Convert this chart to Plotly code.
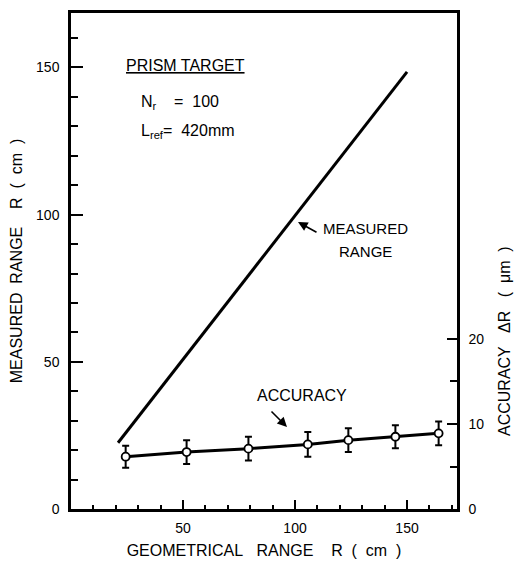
import plotly.graph_objects as go

# ---- data ----
geo_line = [21, 150]                 # geometrical range (cm) for measured-range line
measured_line = [22.5, 148.5]        # measured range (cm)
acc_x = [24.4, 51.6, 79.2, 105.7, 123.8, 144.8, 164.1]   # geometrical range (cm)
acc_y = [6.15, 6.7, 7.1, 7.6, 8.1, 8.5, 8.9]             # accuracy (um)
acc_err = [1.3, 1.4, 1.4, 1.45, 1.4, 1.35, 1.4]          # error bar half-length (um)

x_ticks = [50, 100, 150]
y_ticks = [0, 50, 100, 150]
y2_ticks = [0, 10, 20]
y2_minor = [5, 15]

X_MAX, Y_MAX, Y2_MAX = 172.3, 168.5, 58.35
FONT = "Liberation Sans, Arial, sans-serif"

W, H = 514, 565
L, R, T, B = 71, 457, 13, 509   # plot area in window pixels

def px(x):
    return (x - L) / (R - L)
def py(y):
    return (B - y) / (B - T)

fig = go.Figure()
fig.add_trace(go.Scatter(x=geo_line, y=measured_line, mode="lines",
                         line=dict(color="black", width=3), yaxis="y",
                         showlegend=False, hoverinfo="skip"))
fig.add_trace(go.Scatter(x=acc_x, y=acc_y, mode="lines+markers", yaxis="y2",
                         line=dict(color="black", width=3),
                         marker=dict(symbol="circle", size=8, color="white",
                                     line=dict(color="black", width=1.8)),
                         error_y=dict(type="data", array=acc_err, visible=True,
                                      color="black", thickness=2, width=3.5),
                         showlegend=False))

tickfont = dict(family=FONT, size=14, color="black")
titlefont = dict(family=FONT, size=16, color="black")
NB = "\u00a0"

fig.update_layout(
    width=W, height=H,
    margin=dict(l=L, r=W - R, t=T, b=H - B, autoexpand=False),
    paper_bgcolor="white", plot_bgcolor="white",
    xaxis=dict(range=[0, X_MAX], tickvals=x_ticks, ticks="inside", ticklen=9,
               tickwidth=2, tickcolor="black", showline=True, mirror=True,
               linecolor="black", linewidth=2.5, showgrid=False, zeroline=False,
               tickfont=tickfont, ticklabelstandoff=4,
               minor=dict(dtick=10, tick0=0, ticks="inside", ticklen=4,
                          tickwidth=1.5, tickcolor="black", showgrid=False),
               title=dict(text=f"GEOMETRICAL{NB*3}RANGE{NB*4}R{NB*2}({NB*2}cm{NB*2})",
                          font=titlefont, standoff=11)),
    yaxis=dict(range=[0, Y_MAX], tickvals=y_ticks, ticks="inside", ticklen=12,
               tickwidth=2, tickcolor="black", showline=True, linecolor="black",
               linewidth=2.5, showgrid=False, zeroline=False, tickfont=tickfont,
               ticklabelstandoff=6,
               minor=dict(dtick=10, tick0=0, ticks="inside", ticklen=7,
                          tickwidth=1.5, tickcolor="black", showgrid=False),
               title=dict(text=f"MEASURED{NB*2}RANGE{NB*4}R{NB*2}({NB*2}cm{NB*2})",
                          font=titlefont, standoff=10)),
    yaxis2=dict(range=[0, Y2_MAX], overlaying="y", side="right",
                tickvals=y2_ticks, ticks="inside", ticklen=10, tickwidth=2,
                tickcolor="black", showline=True, linecolor="black",
                linewidth=2.5, showgrid=False, zeroline=False, tickfont=tickfont,
                ticklabelstandoff=6,
                minor=dict(tickvals=y2_minor, ticks="inside", ticklen=7,
                           tickwidth=1.5, tickcolor="black", showgrid=False)),
)

def f(size):
    return dict(family=FONT, size=size, color="black")

anns = [
    dict(x=px(124), y=py(65), text="<u>PRISM TARGET</u>", xanchor="left", font=f(16)),
    dict(x=px(139), y=py(102), text=f"N<sub>r</sub>{NB*4}={NB*2}100", xanchor="left", font=f(16)),
    dict(x=px(139), y=py(131), text=f"L<sub>ref</sub>={NB*2}420mm", xanchor="left", font=f(16)),
    dict(x=px(365), y=py(228), text="MEASURED", xanchor="center", font=f(15)),
    dict(x=px(365), y=py(252), text="RANGE", xanchor="center", font=f(15)),
    dict(x=px(302), y=py(395), text="ACCURACY", xanchor="center", font=f(16)),
    # right axis title
    dict(x=px(504), y=py(341), text=f"ACCURACY{NB*3}\u0394R{NB*3}({NB*2}\u03bcm{NB*2})",
         xanchor="center", font=f(16), textangle=-90),
]
for a in anns:
    fig.add_annotation(xref="paper", yref="paper", showarrow=False,
                       yanchor="middle", **a)

# arrows
fig.add_annotation(xref="paper", yref="paper", x=px(298), y=py(222), ax=20, ay=11,
                   text="", showarrow=True, arrowhead=2, arrowsize=1.2,
                   arrowwidth=1.6, arrowcolor="black")
fig.add_annotation(xref="paper", yref="paper", x=px(287), y=py(427), ax=-17, ay=-17,
                   text="", showarrow=True, arrowhead=2, arrowsize=1.2,
                   arrowwidth=1.6, arrowcolor="black")

fig.write_html("out.html", config={"displayModeBar": False},
               post_script="document.body.style.margin='0';"
                           "document.body.style.overflow='hidden';")
